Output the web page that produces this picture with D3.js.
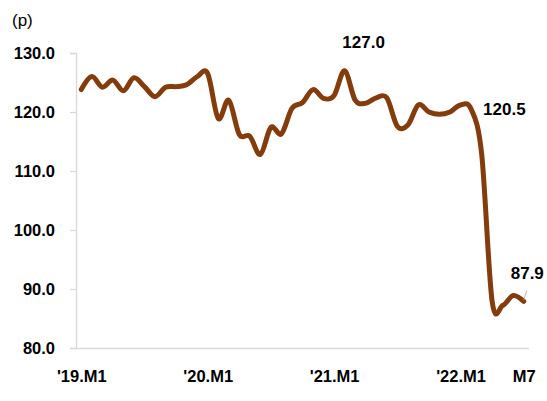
<!DOCTYPE html>
<html>
<head>
<meta charset="utf-8">
<script src="https://cdn.jsdelivr.net/npm/d3@7"></script>
<style>
  html, body { margin: 0; padding: 0; background: #fff; }
  svg { display: block; }
  text { font-family: "Liberation Sans", Arial, sans-serif; fill: #000; }
</style>
</head>
<body>
<svg id="chart" width="547" height="401"></svg>
<script>
// ---- data ----
const categories = [
  "2019.01","2019.02","2019.03","2019.04","2019.05","2019.06","2019.07","2019.08","2019.09","2019.10","2019.11","2019.12",
  "2020.01","2020.02","2020.03","2020.04","2020.05","2020.06","2020.07","2020.08","2020.09","2020.10","2020.11","2020.12",
  "2021.01","2021.02","2021.03","2021.04","2021.05","2021.06","2021.07","2021.08","2021.09","2021.10","2021.11","2021.12",
  "2022.01","2022.02","2022.03","2022.04","2022.05","2022.06","2022.07"
];
const values = [
  123.8, 126.0, 124.2, 125.4, 123.6, 125.8, 124.3, 122.6, 124.2, 124.3, 124.6, 126.0,
  126.5, 118.9, 122.0, 116.2, 115.9, 112.8, 117.4, 116.3, 120.6, 121.6, 123.8, 122.3,
  122.8, 127.0, 122.0, 121.5, 122.4, 122.4, 117.6, 117.8, 121.2, 120.0, 119.6, 120.0,
  121.2, 120.5, 113.0, 87.9, 87.2, 88.9, 87.9
];
const yTicks = [80, 90, 100, 110, 120, 130];
const xTickCategories = ["2019.01", "2020.01", "2021.01", "2022.01", "2022.07"];
const xTickLabels = ["'19.M1", "'20.M1", "'21.M1", "'22.M1", "M7"];
const labelledPoints = ["2021.02", "2022.02", "2022.07"];
const unitLabel = "(p)";

// ---- chart ----
const svg = d3.select("#chart");
const lineColor = "#843C0C";
const axisColor = "#D9D9D9";

const x = d3.scalePoint().domain(categories).range([76, 529]).padding(0.5);
const y = d3.scaleLinear().domain([80, 130]).range([348, 53]);

// y axis
const yAxis = d3.axisLeft(y).tickValues(yTicks).tickSize(6).tickPadding(15)
  .tickFormat(d3.format(".1f"));
const gy = svg.append("g").attr("transform", "translate(76,0)").call(yAxis);
gy.select(".domain").attr("stroke", axisColor).attr("stroke-width", 1.3);
gy.selectAll(".tick line").attr("stroke", axisColor).attr("stroke-width", 1.3);
gy.selectAll(".tick text")
  .attr("font-size", "16.5px").attr("font-weight", "bold")
  .attr("font-family", "'Liberation Sans', Arial, sans-serif");

// x axis
const xAxis = d3.axisBottom(x).tickValues(xTickCategories).tickSize(0).tickPadding(22)
  .tickFormat((d) => xTickLabels[xTickCategories.indexOf(d)]);
const gx = svg.append("g").attr("transform", "translate(0,348)").call(xAxis);
gx.select(".domain").attr("stroke", axisColor).attr("stroke-width", 1.3)
  .attr("d", "M76,0.5H529");
gx.selectAll(".tick text")
  .attr("font-size", "16.5px").attr("font-weight", "bold")
  .attr("font-family", "'Liberation Sans', Arial, sans-serif");

// unit label
svg.append("text").attr("x", 12).attr("y", 26).attr("font-size", "17px").text(unitLabel);

// line
const data = categories.map((c, i) => ({ c, v: values[i] }));
const line = d3.line().x((d) => x(d.c)).y((d) => y(d.v)).curve(d3.curveCatmullRom.alpha(0));
svg.append("path").datum(data)
  .attr("d", line)
  .attr("fill", "none")
  .attr("stroke", lineColor)
  .attr("stroke-width", 5)
  .attr("stroke-linejoin", "round")
  .attr("stroke-linecap", "round");

// data labels
const fmt = d3.format(".1f");
const lblStyle = (t) => t.attr("font-size", "17px").attr("font-weight", "bold");
const p1 = data.find((d) => d.c === labelledPoints[0]);
svg.append("text").attr("x", x(p1.c) + 19).attr("y", y(p1.v) - 27)
  .attr("text-anchor", "middle").attr("dominant-baseline", "middle")
  .call(lblStyle).text(fmt(p1.v));
const p2 = data.find((d) => d.c === labelledPoints[1]);
svg.append("text").attr("x", x(p2.c) + 12).attr("y", y(p2.v) + 1)
  .attr("text-anchor", "start").attr("dominant-baseline", "middle")
  .call(lblStyle).text(fmt(p2.v));
const p3 = data.find((d) => d.c === labelledPoints[2]);
svg.append("line")
  .attr("x1", x(p3.c) + 3).attr("y1", y(p3.v) - 11)
  .attr("x2", x(p3.c)).attr("y2", y(p3.v) - 1)
  .attr("stroke", "#A6A6A6").attr("stroke-width", 0.8);
svg.append("text").attr("x", x(p3.c) - 13).attr("y", y(p3.v) - 27)
  .attr("text-anchor", "start").attr("dominant-baseline", "middle")
  .call(lblStyle).text(fmt(p3.v));
</script>
</body>
</html>
